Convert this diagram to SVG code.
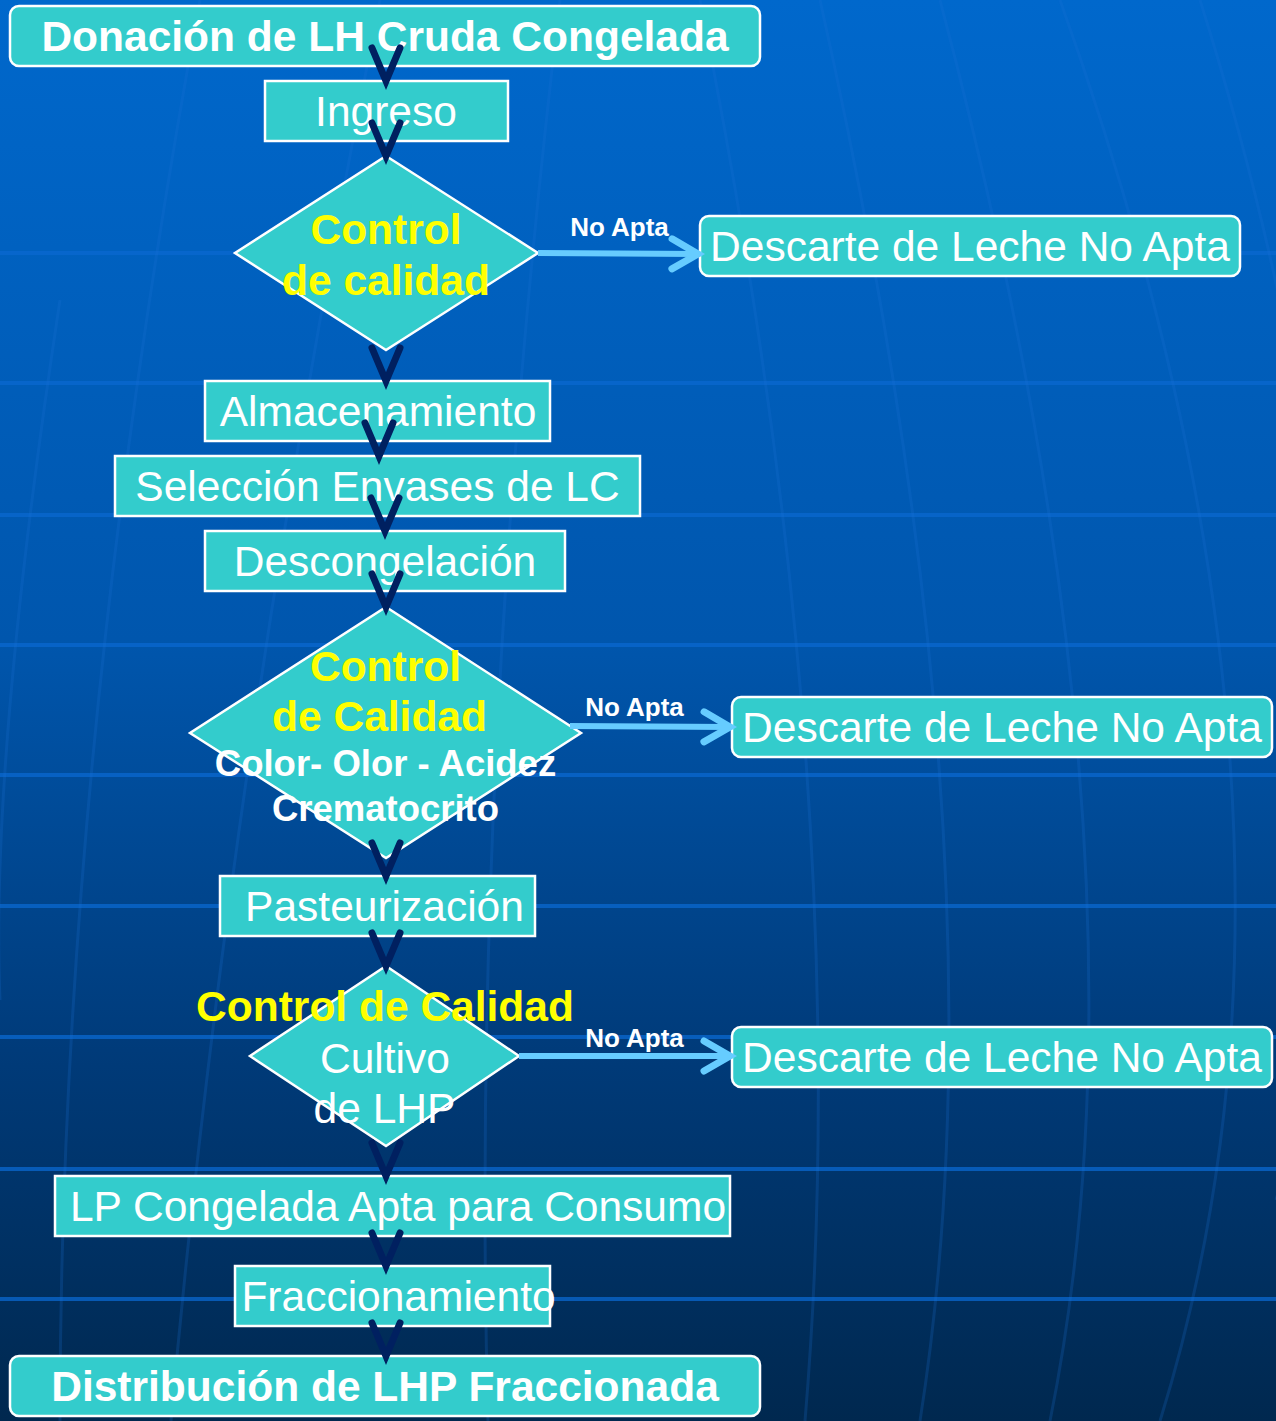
<svg xmlns="http://www.w3.org/2000/svg" width="1276" height="1421" viewBox="0 0 1276 1421">
<defs>
<linearGradient id="bg" x1="0" y1="0" x2="0" y2="1">
<stop offset="0" stop-color="#0068cc"/>
<stop offset="0.45" stop-color="#0056ad"/>
<stop offset="0.75" stop-color="#003a78"/>
<stop offset="1" stop-color="#00284f"/>
</linearGradient>
<marker id="vdark" markerUnits="userSpaceOnUse" markerWidth="80" markerHeight="80" refX="0" refY="0" orient="auto" overflow="visible">
<path d="M-33,-14 L0,0 L-33,14" fill="none" stroke="#002060" stroke-width="7" stroke-linecap="round" stroke-linejoin="miter"/>
</marker>
<marker id="vlight" markerUnits="userSpaceOnUse" markerWidth="80" markerHeight="80" refX="0" refY="0" orient="auto" overflow="visible">
<path d="M-26,-15 L0,0 L-26,15" fill="none" stroke="#66ccff" stroke-width="7" stroke-linecap="round"/>
</marker>
</defs>
<style>
.box{fill:#33cccc;stroke:#ffffff;stroke-width:2.5}
.t{font-family:"Liberation Sans",Arial,sans-serif;font-size:42.5px;fill:#ffffff;text-anchor:middle}
.b{font-weight:bold}
.y{fill:#ffff00;font-weight:bold}
.s{font-size:36.5px;font-weight:bold}
.na{font-family:"Liberation Sans",Arial,sans-serif;font-size:26px;font-weight:bold;fill:#ffffff;text-anchor:middle}
.hl{stroke:#0a68d0;stroke-width:4;opacity:0.75}
.mer{fill:none;stroke:#1a70d4;stroke-width:3;opacity:0.22}
.cd{fill:none;stroke:none;marker-end:url(#vdark)}
.cl{fill:none;stroke:#66ccff;stroke-width:6;marker-end:url(#vlight)}
</style>
<rect x="0" y="0" width="1276" height="1421" fill="url(#bg)"/>
<g id="background">
<line class="hl" x1="0" y1="253" x2="1276" y2="253" opacity="0.2"/>
<line class="hl" x1="0" y1="383" x2="1276" y2="383"/>
<line class="hl" x1="0" y1="515" x2="1276" y2="515"/>
<line class="hl" x1="0" y1="645" x2="1276" y2="645"/>
<line class="hl" x1="0" y1="775" x2="1276" y2="775"/>
<line class="hl" x1="0" y1="906" x2="1276" y2="906"/>
<line class="hl" x1="0" y1="1037" x2="1276" y2="1037" opacity="0.35"/>
<line class="hl" x1="0" y1="1169" x2="1276" y2="1169"/>
<line class="hl" x1="0" y1="1299" x2="1276" y2="1299"/>
<path class="mer" d="M700,0 Q858,790 805,1421"/>
<path class="mer" d="M820,0 Q1010,850 920,1421"/>
<path class="mer" d="M940,0 Q1165,850 1050,1421"/>
<path class="mer" d="M1060,0 Q1350,810 1160,1421"/>
<path class="mer" d="M1200,0 Q1420,700 1276,1200"/>
<path class="mer" d="M560,0 Q470,760 488,1421"/>
<path class="mer" d="M380,0 Q230,760 171,1421"/>
<path class="mer" d="M200,0 Q60,760 60,1421"/>
<path class="mer" d="M60,300 Q-10,760 0,1000"/>
</g>
<g id="n-donacion">
<rect class="box" x="10" y="6" width="750" height="60" rx="9"/>
<text class="t b" x="385" y="51">Donación de LH Cruda Congelada</text>
</g>
<g id="n-ingreso">
<rect class="box" x="265" y="81" width="243" height="60"/>
<text class="t" x="386" y="126">Ingreso</text>
</g>
<g id="n-control1">
<polygon class="box" points="386,156 538,253 386,350 235,253"/>
<text class="t y" x="386" y="244">Control</text>
<text class="t y" x="386" y="295">de calidad</text>
</g>
<g id="n-descarte1">
<rect class="box" x="700" y="216" width="540" height="60" rx="9"/>
<text class="t" x="970" y="261">Descarte de Leche No Apta</text>
</g>
<g id="n-almacenamiento">
<rect class="box" x="205" y="381" width="345" height="60"/>
<text class="t" x="378" y="426">Almacenamiento</text>
</g>
<g id="n-seleccion">
<rect class="box" x="115" y="456" width="525" height="60"/>
<text class="t" x="377.5" y="501">Selección Envases de LC</text>
</g>
<g id="n-descongelacion">
<rect class="box" x="205" y="531" width="360" height="60"/>
<text class="t" x="385" y="576">Descongelación</text>
</g>
<g id="n-control2">
<polygon class="box" points="386,607 581,733 386,858 190,733"/>
<text class="t y" x="385.5" y="681">Control</text>
<text class="t y" x="379.5" y="731">de Calidad</text>
<text class="t s" x="385.5" y="776">Color- Olor - Acidez</text>
<text class="t s" x="385.5" y="821">Crematocrito</text>
</g>
<g id="n-descarte2">
<rect class="box" x="732" y="697" width="540" height="60" rx="9"/>
<text class="t" x="1002" y="742">Descarte de Leche No Apta</text>
</g>
<g id="n-pasteurizacion">
<rect class="box" x="220" y="876" width="315" height="60"/>
<text class="t" x="384.5" y="921">Pasteurización</text>
</g>
<g id="n-control3">
<polygon class="box" points="386,966 519,1056 386,1146 250,1056"/>
<text class="t y" x="385" y="1021">Control de Calidad</text>
<text class="t" x="385" y="1073">Cultivo</text>
<text class="t" x="384.5" y="1123">de LHP</text>
</g>
<g id="n-descarte3">
<rect class="box" x="732" y="1027" width="540" height="60" rx="9"/>
<text class="t" x="1002" y="1072">Descarte de Leche No Apta</text>
</g>
<g id="n-lpcongelada">
<rect class="box" x="55" y="1176" width="675" height="60"/>
<text class="t" x="398" y="1221">LP Congelada Apta para Consumo</text>
</g>
<g id="n-fraccionamiento">
<rect class="box" x="235" y="1266" width="315" height="60"/>
<text class="t" x="398.5" y="1311">Fraccionamiento</text>
</g>
<g id="n-distribucion">
<rect class="box" x="10" y="1356" width="750" height="60" rx="9"/>
<text class="t b" x="385" y="1401">Distribución de LHP Fraccionada</text>
</g>
<g id="connectors">
<line class="cd" x1="386" y1="66" x2="386" y2="81"/>
<line class="cd" x1="386" y1="141" x2="386" y2="156"/>
<line class="cd" x1="386" y1="350" x2="386" y2="381"/>
<line class="cd" x1="379" y1="441" x2="379" y2="456"/>
<line class="cd" x1="385" y1="516" x2="385" y2="531"/>
<line class="cd" x1="386" y1="591" x2="386" y2="607"/>
<line class="cd" x1="386" y1="858" x2="386" y2="876"/>
<line class="cd" x1="386" y1="936" x2="386" y2="966"/>
<line class="cd" x1="386" y1="1146" x2="386" y2="1176"/>
<line class="cd" x1="386" y1="1236" x2="386" y2="1266"/>
<line class="cd" x1="386" y1="1326" x2="386" y2="1356"/>
<line class="cl" x1="538" y1="253" x2="698" y2="254"/>
<line class="cl" x1="570" y1="726" x2="730" y2="727"/>
<line class="cl" x1="519" y1="1056" x2="730" y2="1056"/>
<text class="na" x="619.5" y="236">No Apta</text>
<text class="na" x="634.5" y="716">No Apta</text>
<text class="na" x="634.5" y="1047">No Apta</text>
</g>
</svg>
